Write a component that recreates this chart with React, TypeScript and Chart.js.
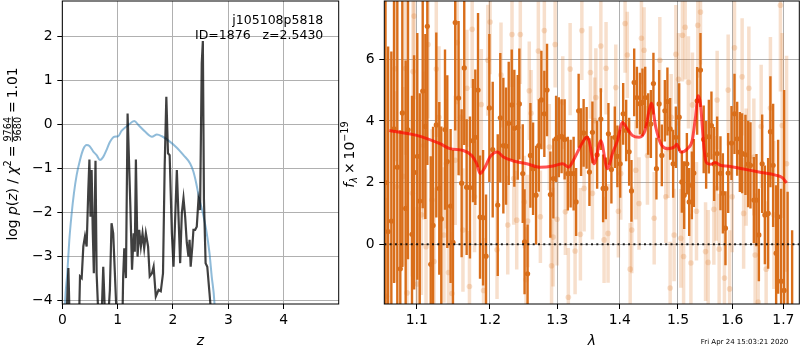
import React, { useEffect, useRef } from "react";
import { Chart, registerables } from "chart.js";

Chart.register(...registerables);

// ---------------- Left panel: log p(z) ----------------
const zTicks = [0, 1, 2, 3, 4];
const logpTicks = [-4, -3, -2, -1, 0, 1, 2];

const priorZ = [0.03, 0.05, 0.09, 0.127, 0.17, 0.21, 0.26, 0.32, 0.38, 0.44, 0.49, 0.56, 0.62, 0.68, 0.74, 0.80, 0.86, 0.94, 1.01, 1.07, 1.19, 1.30, 1.38, 1.50, 1.62, 1.71, 1.80, 1.92, 2.07, 2.19, 2.31, 2.37, 2.42, 2.48, 2.54, 2.60, 2.66, 2.70, 2.75, 2.78];
const priorLogP = [-5.0, -4.07, -3.39, -2.63, -2.02, -1.57, -1.15, -0.81, -0.56, -0.47, -0.49, -0.62, -0.70, -0.81, -0.74, -0.58, -0.40, -0.28, -0.27, -0.15, -0.02, 0.08, -0.02, -0.17, -0.28, -0.23, -0.27, -0.37, -0.53, -0.70, -0.89, -1.08, -1.34, -1.72, -2.02, -2.40, -2.93, -3.46, -4.07, -5.0];

const pzZ = [0.05, 0.08, 0.11, 0.13, 0.20, 0.30, 0.32, 0.35, 0.38, 0.41, 0.44, 0.47, 0.49, 0.51, 0.53, 0.55, 0.57, 0.60, 0.62, 0.65, 0.70, 0.74, 0.77, 0.82, 0.86, 0.89, 0.92, 0.98, 1.04, 1.09, 1.10, 1.12, 1.15, 1.18, 1.23, 1.26, 1.29, 1.31, 1.33, 1.36, 1.39, 1.42, 1.45, 1.48, 1.51, 1.55, 1.58, 1.62, 1.65, 1.69, 1.74, 1.78, 1.82, 1.85, 1.88, 1.91, 1.94, 1.98, 2.01, 2.07, 2.10, 2.13, 2.16, 2.19, 2.22, 2.25, 2.28, 2.30, 2.32, 2.35, 2.37, 2.40, 2.43, 2.46, 2.49, 2.52, 2.54, 2.56, 2.59, 2.62, 2.66, 2.69, 2.75];
const pzLogP = [-5.0, -4.3, -3.27, -4.3, -5.5, -4.6, -3.46, -3.5, -2.78, -2.55, -2.78, -1.49, -0.80, -2.10, -1.04, -2.40, -3.39, -0.83, -3.39, -4.3, -4.8, -3.24, -4.3, -4.6, -3.77, -2.25, -2.48, -4.3, -4.8, -4.2, -3.46, -2.82, -3.5, 0.25, -1.87, -3.31, -2.48, -2.9, -0.80, -3.01, -2.40, -2.78, -2.48, -2.82, -2.48, -2.78, -3.46, -3.39, -3.24, -3.92, -3.77, -3.80, -3.39, -0.96, 0.63, -0.66, -0.70, -2.48, -3.24, -1.04, -2.10, -3.16, -2.02, -1.68, -2.10, -2.70, -3.01, -2.63, -3.24, -2.78, -2.40, -2.40, -2.33, -1.72, -1.95, 1.39, 1.90, -1.72, -3.16, -3.24, -3.84, -4.3, -5.2];

// ---------------- Right panel: spectrum ----------------
const lamTicks = [1.1, 1.2, 1.3, 1.4, 1.5, 1.6, 1.7];
const fluxTicks = [0, 2, 4, 6];

const modelLam = [1.0648, 1.100, 1.1308, 1.1443, 1.1626, 1.1743, 1.1813, 1.1859, 1.1930, 1.2001, 1.2105, 1.2192, 1.2337, 1.2535, 1.2735, 1.2938, 1.3083, 1.3170, 1.3276, 1.3382, 1.3462, 1.3498, 1.3579, 1.3688, 1.3795, 1.3878, 1.3961, 1.4044, 1.4125, 1.4209, 1.4323, 1.4426, 1.4495, 1.4535, 1.4611, 1.4698, 1.4814, 1.4932, 1.4980, 1.5052, 1.5171, 1.5256, 1.5316, 1.5365, 1.5407, 1.5469, 1.5511, 1.5590, 1.5683, 1.5777, 1.5935, 1.6188, 1.6513, 1.6841, 1.6977, 1.7065];
const modelFlux = [3.69, 3.53, 3.26, 3.10, 3.04, 2.88, 2.61, 2.29, 2.50, 2.83, 2.99, 2.83, 2.70, 2.61, 2.50, 2.54, 2.61, 2.50, 2.83, 3.26, 3.47, 3.36, 2.61, 3.36, 2.45, 2.94, 3.36, 3.95, 3.74, 3.53, 3.47, 3.69, 4.33, 4.57, 3.79, 3.26, 3.10, 3.15, 3.24, 2.99, 3.10, 3.36, 4.12, 4.82, 4.55, 3.15, 2.66, 2.59, 2.65, 2.56, 2.53, 2.45, 2.34, 2.24, 2.16, 1.99];

const darkLam = [1.0600, 1.0633, 1.0674, 1.0708, 1.0750, 1.0788, 1.0814, 1.0857, 1.0887, 1.0939, 1.0966, 1.1008, 1.1040, 1.1079, 1.1114, 1.1140, 1.1185, 1.1216, 1.1259, 1.1299, 1.1326, 1.1376, 1.1407, 1.1452, 1.1484, 1.1515, 1.1561, 1.1603, 1.1639, 1.1672, 1.1718, 1.1760, 1.1793, 1.1831, 1.1859, 1.1902, 1.1944, 1.1991, 1.2039, 1.2111, 1.2148, 1.2192, 1.2231, 1.2270, 1.2314, 1.2352, 1.2402, 1.2426, 1.2476, 1.2503, 1.2548, 1.2590, 1.2630, 1.2675, 1.2716, 1.2755, 1.2800, 1.2841, 1.2892, 1.2938, 1.2980, 1.3022, 1.3065, 1.3112, 1.3162, 1.3206, 1.3253, 1.3292, 1.3332, 1.3371, 1.3411, 1.3459, 1.3504, 1.3552, 1.3628, 1.3688, 1.3725, 1.3769, 1.3812, 1.3861, 1.3917, 1.3960, 1.4006, 1.4056, 1.4106, 1.4156, 1.4195, 1.4241, 1.4287, 1.4338, 1.4382, 1.4428, 1.4480, 1.4526, 1.4570, 1.4622, 1.4669, 1.4716, 1.4769, 1.4814, 1.4862, 1.4915, 1.4963, 1.5022, 1.5070, 1.5112, 1.5160, 1.5202, 1.5250, 1.5286, 1.5346, 1.5407, 1.5466, 1.5511, 1.5561, 1.5609, 1.5659, 1.5715, 1.5777, 1.5822, 1.5871, 1.5922, 1.5985, 1.6042, 1.6093, 1.6144, 1.6188, 1.6252, 1.6304, 1.6349, 1.6415, 1.6466, 1.6513, 1.6578, 1.6631, 1.6696, 1.6741, 1.6795, 1.6855, 1.6895, 1.6955, 1.7015, 1.7086, 1.7178];
const darkFlux = [2.0, 0.41, 0.75, 3.74, 2.5, -0.80, 4.26, 1.16, 3.71, 0.32, 2.33, 2.85, 1.40, 4.97, 3.82, 7.07, -0.65, 0.61, 3.87, 1.81, 0.82, 3.72, 2.68, 1.24, 0.06, 7.19, 4.74, 1.98, 5.72, 1.85, 1.84, 3.36, 3.47, 5.00, 0.88, 0.86, -0.39, 4.42, 3.07, 1.27, 4.10, 3.20, 3.18, 3.92, 4.52, 3.76, 3.79, 4.55, 2.29, 0.08, -0.96, 2.88, 2.45, 1.59, 3.20, 4.68, 4.23, 5.00, 1.61, 2.13, 3.42, 3.47, 3.50, 3.40, 2.29, 2.29, 2.29, 1.37, 4.33, 3.31, 3.61, 3.45, 2.34, 3.63, 2.90, 4.06, 1.81, 1.81, 3.58, 2.42, 3.47, 2.85, 2.61, 4.23, 3.69, 3.00, 1.73, 5.25, 4.76, 4.56, 4.60, 4.76, 3.90, 3.90, 5.21, 2.45, 4.55, 2.88, 4.33, 4.63, 3.74, 2.61, 3.47, 4.12, 2.02, 1.59, 2.61, 1.37, 1.91, 2.31, 4.65, 5.65, 3.40, 2.90, 3.49, 3.85, 2.60, 2.94, 2.30, 1.65, 0.52, 2.31, 3.28, 4.23, 3.42, 2.99, 2.95, 2.90, 2.60, 2.56, 1.43, 1.43, 0.30, 2.61, 0.95, 1.00, 3.65, 2.56, -0.29, 0.89, -1.20, -1.50, -2.50, -3.00];
const darkErr = [6.5, 6.0, 5.5, 5.0, 5.5, 4.5, 5.0, 4.8, 4.2, 4.5, 3.8, 4.0, 3.5, 3.8, 3.0, 4.5, 3.5, 3.2, 3.0, 2.8, 3.0, 2.6, 2.8, 2.5, 3.0, 3.5, 2.5, 2.4, 2.5, 2.2, 2.3, 2.0, 2.2, 2.5, 2.0, 2.2, 2.0, 2.4, 2.2, 2.3, 2.1, 2.2, 1.9, 2.0, 1.8, 1.9, 1.7, 1.8, 1.6, 1.7, 1.6, 1.7, 1.5, 1.6, 1.5, 1.6, 1.4, 1.5, 1.4, 1.3, 1.4, 1.3, 1.2, 1.3, 1.2, 1.1, 1.2, 1.1, 1.2, 1.1, 1.1, 1.0, 1.1, 1.0, 1.1, 1.0, 1.1, 1.0, 1.0, 1.1, 1.0, 1.0, 1.1, 1.0, 1.0, 1.1, 1.0, 1.1, 1.0, 1.0, 1.1, 1.0, 1.0, 1.1, 1.0, 1.0, 1.1, 1.0, 1.0, 1.1, 1.0, 1.1, 1.0, 1.1, 1.0, 1.1, 1.0, 1.1, 1.1, 1.1, 1.1, 1.2, 1.1, 1.1, 1.2, 1.1, 1.2, 1.2, 1.2, 1.3, 1.2, 1.3, 1.2, 1.3, 1.2, 1.3, 1.3, 1.3, 1.4, 1.4, 1.4, 1.5, 1.5, 1.6, 1.6, 1.8, 1.8, 2.0, 2.2, 2.5, 3.0, 6.5, 4.2, 3.45];

const lightLam = [1.0612, 1.0722, 1.0736, 1.0822, 1.0855, 1.0874, 1.0944, 1.0952, 1.0966, 1.1008, 1.1061, 1.1092, 1.1123, 1.1149, 1.1202, 1.1229, 1.1259, 1.1295, 1.1362, 1.1393, 1.1423, 1.1470, 1.1515, 1.1542, 1.1588, 1.1621, 1.1676, 1.1711, 1.1749, 1.1782, 1.1877, 1.1909, 1.1969, 1.2001, 1.2101, 1.2158, 1.2256, 1.2318, 1.2343, 1.2387, 1.2440, 1.2500, 1.2525, 1.2550, 1.2573, 1.2600, 1.2709, 1.2740, 1.2800, 1.2876, 1.2910, 1.2933, 1.2965, 1.2995, 1.3083, 1.3124, 1.3170, 1.3198, 1.3276, 1.3360, 1.3383, 1.3419, 1.3520, 1.3552, 1.3588, 1.3607, 1.3688, 1.3741, 1.3773, 1.3806, 1.3933, 1.3976, 1.4016, 1.4088, 1.4125, 1.4173, 1.4200, 1.4267, 1.4323, 1.4364, 1.4409, 1.4467, 1.4583, 1.4681, 1.4786, 1.4827, 1.4862, 1.4880, 1.4932, 1.4963, 1.5010, 1.5052, 1.5081, 1.5101, 1.5130, 1.5189, 1.5233, 1.5261, 1.5334, 1.5358, 1.5407, 1.5500, 1.5548, 1.5654, 1.5697, 1.5715, 1.5752, 1.5852, 1.5922, 1.5950, 1.5998, 1.6042, 1.6188, 1.6217, 1.6265, 1.6318, 1.6415, 1.6440, 1.6499, 1.6558, 1.6656, 1.6741, 1.6809, 1.6941, 1.6977, 1.7065];
const lightFlux = [-1.69, 5.69, 1.86, 2.20, 5.70, -1.58, 1.65, 5.60, 7.40, -1.29, 0.95, 3.20, -0.08, 6.48, 1.43, -0.56, 5.68, 4.12, 0.30, 2.61, -0.92, -1.60, 2.72, 6.54, 4.12, 0.46, 5.06, -1.37, 6.97, 1.54, 4.53, -1.50, 5.97, 7.21, -0.18, 5.49, 0.62, 6.80, 2.13, 0.78, 6.80, 1.37, -1.15, 0.75, 4.98, 4.25, 6.27, 0.89, 6.93, 3.15, -0.70, 0.23, 6.48, 0.81, 4.60, 1.05, -1.72, 5.68, -0.22, 0.32, 6.93, 1.81, 5.57, 1.65, 4.01, 4.76, 6.43, 0.14, 5.71, 0.35, 5.08, 1.07, 2.29, 7.16, 6.14, -0.81, 0.46, 2.40, 1.32, 6.68, 6.29, 2.88, 0.84, 5.97, 1.54, 3.10, -1.42, 4.12, 0.30, 6.16, 5.35, 0.19, 6.78, -0.40, 7.04, 5.25, -0.61, 4.52, 1.07, 7.10, 7.53, -0.24, -0.59, 1.13, 1.81, 4.68, -0.16, -1.10, 5.00, -1.45, 1.54, 6.37, 5.43, 1.00, 2.50, 5.06, 2.83, -0.35, -1.88, 3.82, -0.81, 4.42, 0.95, 7.75, 3.85, 2.61];
const lightErr = [3.2, 3.0, 3.1, 2.9, 2.8, 2.9, 2.7, 2.6, 2.7, 2.5, 2.6, 2.4, 2.5, 2.4, 2.3, 2.4, 2.2, 2.3, 2.2, 2.1, 2.2, 2.0, 2.1, 2.0, 1.9, 2.0, 1.9, 1.8, 1.9, 1.8, 1.8, 1.7, 1.8, 1.7, 1.6, 1.7, 1.6, 1.7, 1.5, 1.6, 1.6, 1.5, 1.7, 1.5, 1.6, 1.4, 1.6, 1.5, 1.6, 1.4, 1.5, 1.6, 1.4, 1.5, 1.5, 1.4, 1.6, 1.5, 1.4, 1.5, 1.6, 1.4, 1.5, 1.5, 1.4, 1.6, 1.5, 1.4, 1.5, 1.6, 1.4, 1.5, 1.5, 1.6, 1.4, 1.5, 1.4, 1.6, 1.5, 1.5, 1.4, 1.6, 1.5, 1.4, 1.5, 1.6, 1.5, 1.4, 1.5, 1.6, 1.5, 1.6, 1.5, 1.6, 1.7, 1.5, 1.6, 1.7, 1.6, 1.7, 1.7, 1.6, 1.7, 1.8, 1.7, 1.6, 1.8, 1.7, 1.8, 1.9, 1.8, 1.7, 1.9, 1.8, 1.9, 2.0, 1.9, 2.0, 2.1, 2.0, 2.2, 2.3, 2.4, 2.8, 3.0, 3.5];

const zeroLam = [1.0585, 1.7325];
const zeroFlux = [0, 0];

// ---------------- styling ----------------
const FAMILY = '"DejaVu Sans", sans-serif';
const TICK_FONT = { family: FAMILY, size: 13.9 };
const N = '13.9px ' + FAMILY;
const I = 'italic 13.9px ' + FAMILY;
const S = '9.7px ' + FAMILY;
const SI = 'italic 9.7px ' + FAMILY;
const DARK = 'rgb(217,110,26)';
const LIGHT = 'rgba(222,120,40,0.24)';

const fmt = (v: number, digits: number) => {
  const s = digits > 0 ? Number(v).toFixed(digits) : String(Math.round(v));
  return s.replace('-', '\u2212');
};

function axis(type: string, min: number, max: number, ticksArr: number[], digits: number, isX: boolean, size: number): any {
  return {
    type,
    min,
    max,
    afterBuildTicks: (s: any) => {
      s.ticks = ticksArr.map((v) => ({ value: v }));
    },
    afterFit: (s: any) => {
      if (isX) s.height = size;
      else s.width = size;
      s.paddingTop = 0;
      s.paddingBottom = 0;
      s.paddingLeft = 0;
      s.paddingRight = 0;
    },
    ticks: {
      callback: (v: any) => fmt(Number(v), digits),
      font: TICK_FONT,
      color: '#000',
      padding: isX ? 3 : 4.8,
      autoSkip: false,
      maxRotation: 0,
      minRotation: 0,
    },
    grid: { color: '#b0b0b0', lineWidth: 1, drawTicks: true, tickLength: 5, tickColor: '#000', tickWidth: 1 },
    border: { display: false },
  };
}

// pins the plot area to the reference's pixel box (the scales are then re-configured)
function areaPlugin(left: number, right: number, top: number, bottom: number) {
  return {
    id: 'pinArea',
    afterLayout(chart: any) {
      const a = chart.chartArea;
      a.left = left;
      a.right = right;
      a.top = top;
      a.bottom = bottom;
      a.width = right - left;
      a.height = bottom - top;
      const xs = chart.scales.x;
      const ys = chart.scales.y;
      xs.left = left;
      xs.right = right;
      xs.width = right - left;
      xs.top = bottom;
      xs.bottom = chart.height;
      xs.height = chart.height - bottom;
      ys.right = left;
      ys.left = 0;
      ys.width = left;
      ys.top = top;
      ys.bottom = bottom;
      ys.height = bottom - top;
      xs.configure();
      ys.configure();
    },
  };
}

const framePlugin = {
  id: 'frame',
  afterDatasetsDraw(chart: any) {
    const { ctx, chartArea: a } = chart;
    ctx.save();
    ctx.strokeStyle = '#000';
    ctx.lineWidth = 1;
    ctx.strokeRect(a.left, a.top, a.right - a.left, a.bottom - a.top);
    ctx.restore();
  },
};

const errorBarPlugin = {
  id: 'errbars',
  beforeDatasetDraw(chart: any, args: any) {
    const ds: any = chart.data.datasets[args.index];
    if (!ds.errors) return;
    const { ctx, chartArea: a } = chart;
    const xs = chart.scales.x;
    const ys = chart.scales.y;
    ctx.save();
    ctx.beginPath();
    ctx.rect(a.left, a.top, a.right - a.left, a.bottom - a.top);
    ctx.clip();
    ctx.strokeStyle = ds.errColor;
    ctx.lineWidth = ds.errWidth;
    ctx.lineCap = 'butt';
    ds.data.forEach((p: any, i: number) => {
      const e = ds.errors[i];
      const x = xs.getPixelForValue(p.x);
      ctx.beginPath();
      ctx.moveTo(x, ys.getPixelForValue(p.y - e));
      ctx.lineTo(x, ys.getPixelForValue(p.y + e));
      ctx.stroke();
    });
    ctx.restore();
  },
};

type Seg = { t?: string; font?: string; dy?: number; gap?: number; num?: string; den?: string };

function segWidth(ctx: CanvasRenderingContext2D, s: Seg): number {
  if (s.gap) return s.gap;
  if (s.num) {
    ctx.font = S;
    return Math.max(ctx.measureText(s.num).width, ctx.measureText(s.den || '').width) + 2;
  }
  ctx.font = s.font || N;
  return ctx.measureText(s.t || '').width;
}

function drawRotated(ctx: CanvasRenderingContext2D, segs: Seg[], baseX: number, centerY: number) {
  ctx.save();
  ctx.translate(baseX, centerY);
  ctx.rotate(-Math.PI / 2);
  ctx.fillStyle = '#000';
  ctx.textBaseline = 'alphabetic';
  const widths = segs.map((s) => segWidth(ctx, s));
  const total = widths.reduce((a, b) => a + b, 0);
  let x = -total / 2;
  segs.forEach((s, i) => {
    const w = widths[i];
    if (s.gap) {
      x += w;
      return;
    }
    if (s.num) {
      ctx.font = S;
      ctx.textAlign = 'center';
      ctx.fillText(s.num, x + w / 2, -5.8);
      ctx.fillText(s.den || '', x + w / 2, 4.2);
      ctx.fillRect(x + 0.5, -4.6, w - 1, 0.9);
      ctx.textAlign = 'left';
      x += w;
      return;
    }
    ctx.font = s.font || N;
    ctx.textAlign = 'left';
    ctx.fillText(s.t || '', x, s.dy || 0);
    x += w;
  });
  ctx.restore();
}

const leftLabel: Seg[] = [
  { t: 'log', font: N }, { gap: 4.4 }, { t: 'p', font: I }, { t: '(', font: N }, { t: 'z', font: I }, { t: ')', font: N },
  { gap: 4.4 }, { t: '/', font: N }, { gap: 4.4 }, { t: '\u03c7', font: I }, { t: '2', font: S, dy: -5.6 },
  { gap: 3 }, { t: '=', font: N }, { gap: 3 }, { num: '9764', den: '9680' }, { gap: 3 }, { t: '=', font: N }, { gap: 3 },
  { t: '1.01', font: N },
];

const rightLabel: Seg[] = [
  { t: 'f', font: I }, { t: '\u03bb', font: SI, dy: 3 }, { gap: 3 }, { t: '\u00d7', font: N }, { gap: 3 },
  { t: '10', font: N }, { t: '\u221219', font: S, dy: -5.6 },
];

const leftText = {
  id: 'leftText',
  afterDraw(chart: any) {
    const { ctx, chartArea: a } = chart;
    ctx.save();
    ctx.fillStyle = '#000';
    ctx.textBaseline = 'alphabetic';
    ctx.font = I;
    ctx.textAlign = 'center';
    ctx.fillText('z', (a.left + a.right) / 2, 345);
    ctx.font = '12.5px ' + FAMILY;
    ctx.textAlign = 'right';
    ctx.fillText('j105108p5818', 323.3, 24);
    ctx.fillText('ID=1876   z=2.5430', 323.3, 38.5);
    ctx.restore();
    drawRotated(ctx, leftLabel, 16.5, 154);
  },
};

const rightText = {
  id: 'rightText',
  afterDraw(chart: any) {
    const { ctx, chartArea: a } = chart;
    ctx.save();
    ctx.fillStyle = '#000';
    ctx.textBaseline = 'alphabetic';
    ctx.font = I;
    ctx.textAlign = 'center';
    ctx.fillText('\u03bb', (a.left + a.right) / 2, 345);
    ctx.font = '7px ' + FAMILY;
    ctx.textAlign = 'right';
    ctx.fillText('Fri Apr 24 15:03:21 2020', 448.3, 344);
    ctx.restore();
    drawRotated(ctx, rightLabel, 14, 154.5);
  },
};

const pts = (xs: number[], ys: number[]) => xs.map((x, i) => ({ x, y: ys[i] }));

export default function App() {
  const leftRef = useRef<HTMLCanvasElement>(null);
  const rightRef = useRef<HTMLCanvasElement>(null);

  useEffect(() => {
    document.body.style.margin = '0';
    const common: any = {
      responsive: false,
      maintainAspectRatio: false,
      animation: false,
      devicePixelRatio: 1,
      events: [],
      plugins: { legend: { display: false }, tooltip: { enabled: false } },
    };

    const left = new Chart(leftRef.current as HTMLCanvasElement, {
      type: 'scatter',
      data: {
        datasets: [
          {
            data: pts(pzZ, pzLogP),
            showLine: true,
            borderColor: 'rgba(0,0,0,0.75)',
            borderWidth: 2.2,
            pointRadius: 0,
            tension: 0,
            clip: 0,
            order: 0,
          } as any,
          {
            data: pts(priorZ, priorLogP),
            showLine: true,
            borderColor: 'rgba(31,119,180,0.5)',
            borderWidth: 2,
            pointRadius: 0,
            cubicInterpolationMode: 'monotone',
            clip: 0,
            order: 1,
          } as any,
        ],
      },
      options: {
        ...common,
        layout: { padding: { left: 0, right: 1.3, top: 1, bottom: 0 } },
        scales: {
          x: axis('linear', 0, 4.995, zTicks, 0, true, 46),
          y: axis('linear', -4.09, 2.81, logpTicks, 0, false, 62.3),
        },
      },
      plugins: [areaPlugin(62.3, 338.7, 1, 304), framePlugin, leftText],
    });

    const right = new Chart(rightRef.current as HTMLCanvasElement, {
      type: 'scatter',
      data: {
        datasets: [
          {
            data: pts(modelLam, modelFlux),
            showLine: true,
            borderColor: 'rgba(255,0,0,0.68)',
            borderWidth: 3,
            pointRadius: 0,
            cubicInterpolationMode: 'monotone',
            clip: 0,
            order: 0,
          } as any,
          {
            data: pts(zeroLam, zeroFlux),
            showLine: true,
            borderColor: 'rgba(0,0,0,0.85)',
            borderWidth: 2,
            borderDash: [2, 3.3],
            pointRadius: 0,
            clip: 0,
            order: 1,
          } as any,
          {
            data: pts(darkLam, darkFlux),
            showLine: false,
            pointRadius: 2.6,
            pointBackgroundColor: DARK,
            backgroundColor: DARK,
            pointBorderWidth: 0,
            borderWidth: 0,
            errors: darkErr,
            errColor: DARK,
            errWidth: 2.4,
            clip: 0,
            order: 2,
          } as any,
          {
            data: pts(lightLam, lightFlux),
            showLine: false,
            pointRadius: 2.8,
            pointBackgroundColor: LIGHT,
            backgroundColor: LIGHT,
            pointBorderWidth: 0,
            borderWidth: 0,
            errors: lightErr,
            errColor: LIGHT,
            errWidth: 3.5,
            clip: 0,
            order: 3,
          } as any,
        ],
      },
      options: {
        ...common,
        layout: { padding: { left: 0, right: 0.7, top: 1, bottom: 0 } },
        scales: {
          x: axis('logarithmic', 1.0585, 1.7325, lamTicks, 1, true, 46),
          y: axis('linear', -1.94, 7.89, fluxTicks, 0, false, 44.3),
        },
      },
      plugins: [areaPlugin(44.3, 459.3, 1, 304), errorBarPlugin, framePlugin, rightText],
    });

    return () => {
      left.destroy();
      right.destroy();
    };
  }, []);

  return (
    <div style={{ position: 'relative', width: 800, height: 350 }}>
      <canvas ref={leftRef} width={340} height={350} style={{ position: 'absolute', left: 0, top: 0, width: 340, height: 350 }} />
      <canvas ref={rightRef} width={460} height={350} style={{ position: 'absolute', left: 340, top: 0, width: 460, height: 350 }} />
    </div>
  );
}
